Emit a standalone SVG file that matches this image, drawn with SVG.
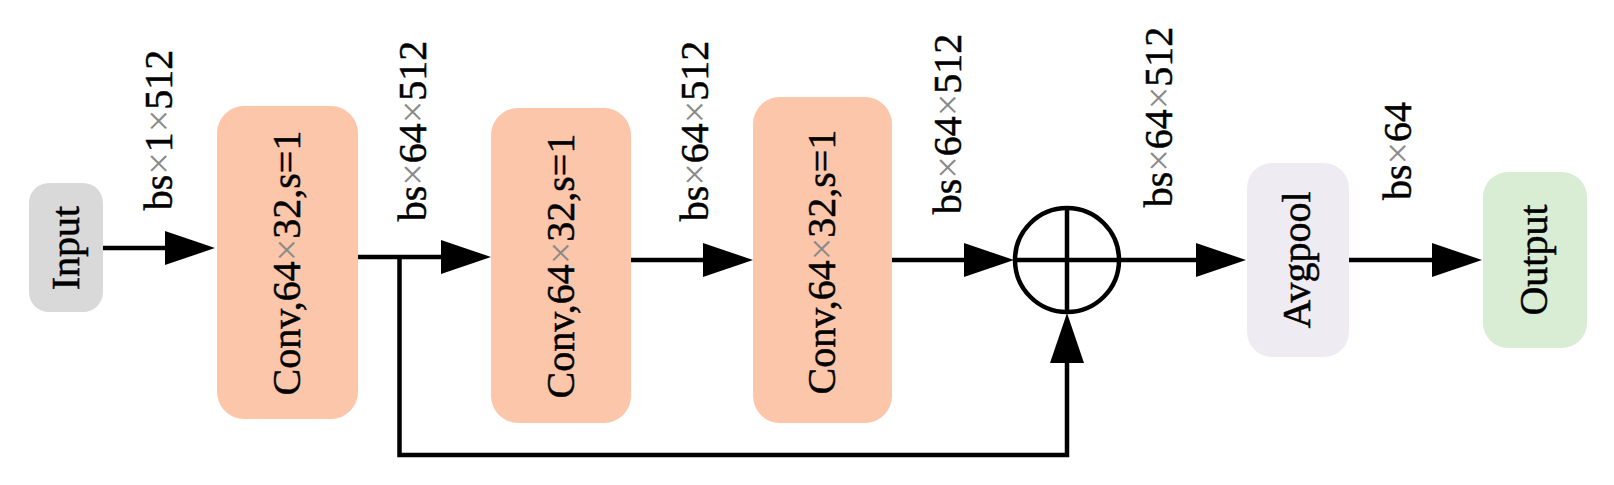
<svg xmlns="http://www.w3.org/2000/svg" width="1614" height="485" viewBox="0 0 1614 485">
<style>
.t{font-family:'Liberation Serif',serif;font-size:40px;fill:#000;stroke:#000;stroke-width:0.5;text-anchor:middle}
.x{fill:#8a8a8a;stroke:none}
.conv{fill:#fcc6aa}
.ln{stroke:#000;stroke-width:4.5;fill:none}
</style>
<defs>
<marker id="ah" markerUnits="userSpaceOnUse" markerWidth="50" markerHeight="34" refX="40" refY="17" orient="auto" viewBox="0 0 50 34">
<path d="M0,0 L50,17 L0,34 Z" fill="#000"/>
</marker>
</defs>
<rect width="1614" height="485" fill="#fff"/>
<g id="connectors">
<path class="ln" d="M103,248 H205" marker-end="url(#ah)"/>
<path class="ln" d="M358,257 H481" marker-end="url(#ah)"/>
<path class="ln" d="M631,260 H743" marker-end="url(#ah)"/>
<path class="ln" d="M892,260 H1004" marker-end="url(#ah)"/>
<path class="ln" d="M1120,260 H1236" marker-end="url(#ah)"/>
<path class="ln" d="M1349,260 H1472" marker-end="url(#ah)"/>
<path class="ln" d="M399.5,257 V455 H1067 V323" marker-end="url(#ah)"/>
</g>
<g id="labels">
<text class="t" transform="translate(172,130) rotate(-90)">bs<tspan class="x">×</tspan>1<tspan class="x">×</tspan>512</text>
<text class="t" transform="translate(426,131) rotate(-90)">bs<tspan class="x">×</tspan>64<tspan class="x">×</tspan>512</text>
<text class="t" transform="translate(708,131) rotate(-90)">bs<tspan class="x">×</tspan>64<tspan class="x">×</tspan>512</text>
<text class="t" transform="translate(961,124) rotate(-90)">bs<tspan class="x">×</tspan>64<tspan class="x">×</tspan>512</text>
<text class="t" transform="translate(1172,117) rotate(-90)">bs<tspan class="x">×</tspan>64<tspan class="x">×</tspan>512</text>
<text class="t" transform="translate(1411,151) rotate(-90)">bs<tspan class="x">×</tspan>64</text>
</g>
<g id="input">
<rect x="29" y="183" width="74" height="129" rx="20" fill="#d9d9d9"/>
<text class="t" transform="translate(79,248) rotate(-90)">Input</text>
</g>
<g id="conv1">
<rect class="conv" x="217" y="106" width="141" height="313" rx="27"/>
<text class="t" transform="translate(300,263) rotate(-90)">Conv,64<tspan class="x">×</tspan>32,s=1</text>
</g>
<g id="conv2">
<rect class="conv" x="491" y="108" width="140" height="315" rx="27"/>
<text class="t" transform="translate(574,266) rotate(-90)">Conv,64<tspan class="x">×</tspan>32,s=1</text>
</g>
<g id="conv3">
<rect class="conv" x="753" y="97" width="139" height="326" rx="27"/>
<text class="t" transform="translate(835,262) rotate(-90)">Conv,64<tspan class="x">×</tspan>32,s=1</text>
</g>
<g id="add">
<circle cx="1067" cy="260" r="52" fill="none" stroke="#000" stroke-width="4.5"/>
<path class="ln" d="M1015,260 H1119 M1067,208 V312"/>
</g>
<g id="avgpool">
<rect x="1247" y="163" width="102" height="194" rx="25" fill="#efebf3"/>
<text class="t" transform="translate(1310,260) rotate(-90)">Avgpool</text>
</g>
<g id="output">
<rect x="1483" y="172" width="104" height="176" rx="25" fill="#d9edd4"/>
<text class="t" transform="translate(1547,260) rotate(-90)">Output</text>
</g>
</svg>
